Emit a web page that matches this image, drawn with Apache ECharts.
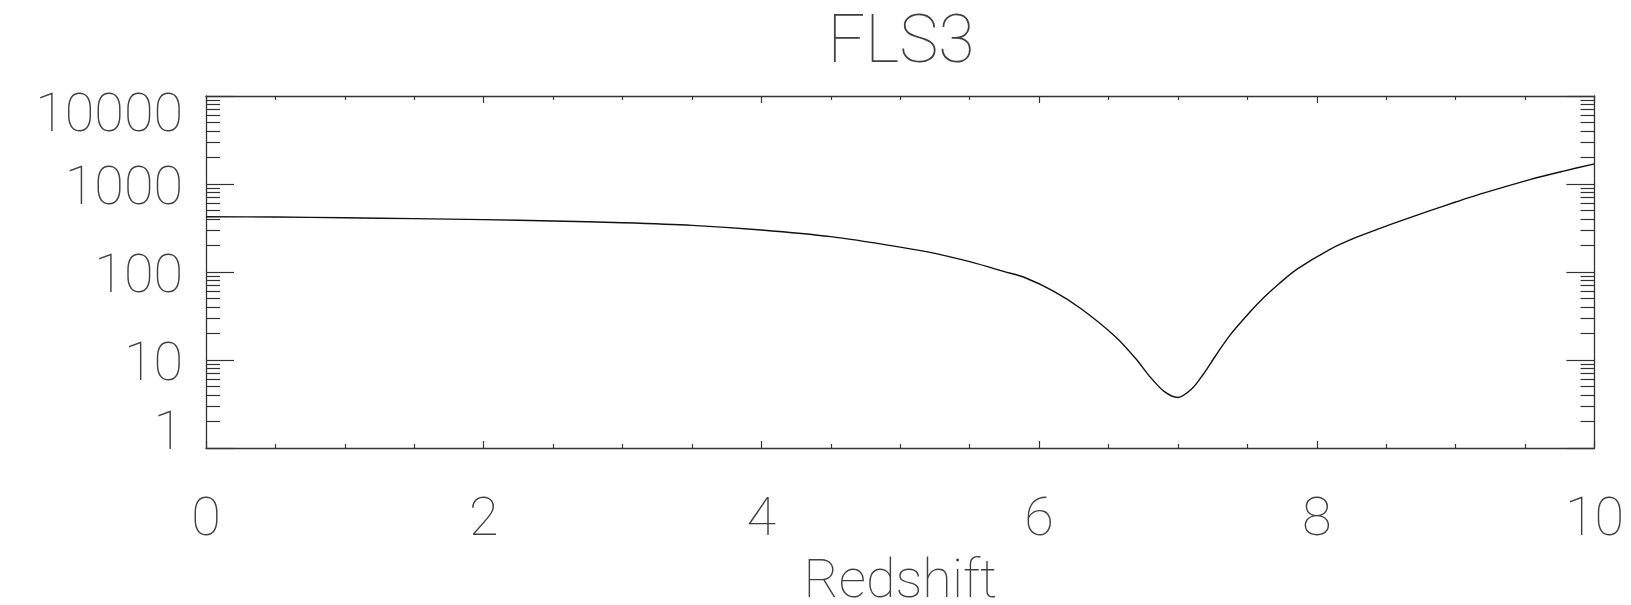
<!DOCTYPE html>
<html>
<head>
<meta charset="utf-8">
<script src="https://cdn.jsdelivr.net/npm/echarts@6/dist/echarts.min.js"></script>
<style>
  html, body { margin: 0; padding: 0; background: #ffffff; }
  #chart { width: 1631px; height: 605px; }
</style>
</head>
<body>
<div id="chart"></div>
<script>
// FLS3 curve versus redshift
const redshift = [0, 0.5, 1.0, 1.5, 2.0, 2.5, 3.0, 3.5, 4.0, 4.5, 5.0, 5.25, 5.5, 5.75, 5.9,
                  6.1, 6.3, 6.55, 6.7, 6.8, 6.9, 7.0, 7.1, 7.18, 7.27, 7.375, 7.52, 7.615,
                  7.73, 7.855, 8.095, 8.27, 8.455, 8.63, 8.815, 9.0, 9.175, 9.535, 9.77, 10];
const fls3 = [424, 421, 413, 404, 394, 380, 363, 339, 300, 252, 192, 163, 131, 101, 86,
              61, 38.5, 18.4, 10.2, 6.4, 4.4, 3.75, 4.7, 6.8, 11.1, 19.2, 35.3, 50.7,
              74, 107, 181, 242, 313, 394, 498, 624, 766, 1122, 1393, 1694];

const xTickValues = [0, 2, 4, 6, 8, 10];
const xTickLabels = ['0', '2', '4', '6', '8', '10'];
const yTickValues = [1, 10, 100, 1000, 10000];
const yTickLabels = ['1', '10', '100', '1000', '10000'];

// minor log ticks: 2..9 within each decade
const yMinorValues = [];
for (let d = 1; d < 10000; d *= 10) {
  for (let m = 2; m <= 9; m++) yMinorValues.push(m * d);
}

const FONT = 'Roboto';
const INK = '#404040';
const frame = { show: true, onZero: false, lineStyle: { color: '#333', width: 1.3 } };
const tickLine = { color: '#333', width: 1.2 };
const plotBox = {
  left: 206, right: 36.5, top: 96, bottom: 157,
  containLabel: false, outerBoundsMode: 'none'
};

function yLabel(value) {
  const i = yTickValues.findIndex(v => Math.abs(v - value) / v < 1e-6);
  if (i < 0) return '';
  const txt = yTickLabels[i];
  if (i === 0) return '{lo|' + txt + '}';
  if (i === yTickValues.length - 1) return '{hi|' + txt + '}';
  return '{n|' + txt + '}';
}

function xLabel(value) {
  const i = xTickValues.findIndex(v => Math.abs(v - value) < 1e-6);
  return i < 0 ? '' : xTickLabels[i];
}

const labelText = { fontFamily: FONT, fontWeight: 100, fontSize: 54, color: INK };

function logAxis(gridIndex, position, major, showLabels) {
  return {
    gridIndex: gridIndex,
    type: 'log',
    logBase: 10,
    min: 1,
    max: 10000,
    position: position,
    offset: 0,
    axisLine: major ? frame : { show: false },
    axisTick: {
      show: true, inside: true, length: major ? 28 : 14,
      customValues: major ? yTickValues : yMinorValues,
      lineStyle: tickLine
    },
    axisLabel: showLabels ? {
      show: true,
      customValues: yTickValues,
      margin: 23,
      formatter: yLabel,
      rich: {
        n: Object.assign({ padding: [12, 0, 0, 0] }, labelText),
        lo: Object.assign({ padding: [0, 0, 26, 0] }, labelText),
        hi: Object.assign({ padding: [43, 0, 0, 0] }, labelText)
      }
    } : { show: false },
    splitLine: { show: false },
    minorTick: { show: false },
    minorSplitLine: { show: false }
  };
}

function linAxis(position, showLabels) {
  return {
    gridIndex: 0,
    type: 'value',
    min: 0,
    max: 10,
    interval: 2,
    position: position,
    axisLine: frame,
    axisTick: { show: true, inside: true, length: 7, lineStyle: tickLine },
    minorTick: { show: true, splitNumber: 4, length: 4, lineStyle: tickLine },
    axisLabel: showLabels ? Object.assign({ show: true, margin: 46, formatter: xLabel }, labelText)
                          : { show: false },
    splitLine: { show: false },
    minorSplitLine: { show: false },
    name: showLabels ? 'Redshift' : '',
    nameLocation: 'middle',
    nameGap: 108,
    nameTextStyle: labelText
  };
}

const chart = echarts.init(document.getElementById('chart'), null, { renderer: 'canvas' });
chart.setOption({
  animation: false,
  backgroundColor: '#ffffff',
  title: {
    text: 'FLS3',
    left: 896,
    top: 7,
    textAlign: 'center',
    textStyle: { fontFamily: FONT, fontWeight: 100, fontSize: 66, color: INK }
  },
  // grid 0 carries the data, the frame and the decade ticks;
  // grid 1 overlays it with the minor log ticks on both sides
  grid: [Object.assign({}, plotBox), Object.assign({}, plotBox)],
  xAxis: [
    linAxis('bottom', true),
    linAxis('top', false),
    { gridIndex: 1, type: 'value', min: 0, max: 10, show: false }
  ],
  yAxis: [
    logAxis(0, 'left', true, true),
    logAxis(0, 'right', true, false),
    logAxis(1, 'left', false, false),
    logAxis(1, 'right', false, false)
  ],
  series: [{
    type: 'line',
    xAxisIndex: 0,
    yAxisIndex: 0,
    data: redshift.map((z, i) => [z, fls3[i]]),
    showSymbol: false,
    symbol: 'none',
    smooth: 0.3,
    clip: true,
    lineStyle: { color: '#111', width: 1.4 }
  }]
});
</script>
</body>
</html>
